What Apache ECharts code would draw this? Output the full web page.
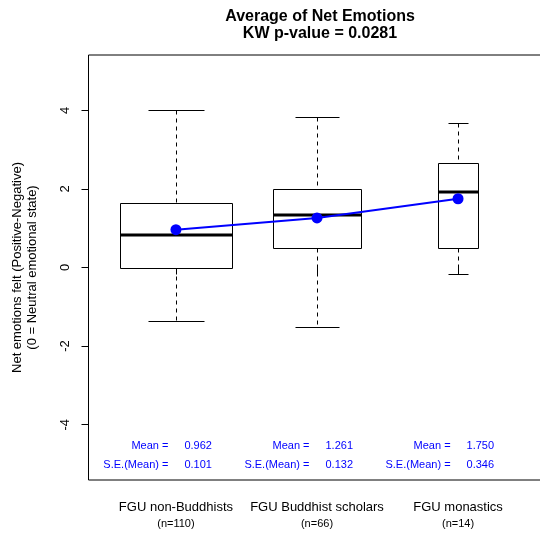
<!DOCTYPE html>
<html>
<head>
<meta charset="utf-8">
<script src="https://cdn.jsdelivr.net/npm/echarts@6/dist/echarts.min.js"></script>
<style>html,body{margin:0;padding:0;background:#fff;}#c{width:540px;height:535px;}</style>
</head>
<body>
<div id="c"></div>
<script>
var categories = ['FGU non-Buddhists', 'FGU Buddhist scholars', 'FGU monastics'];
var nCounts = [110, 66, 14];
var whiskerLow = [-1.35, -1.51, -0.17];
var q1 = [0.0, 0.5, 0.5];
var medians = [0.83, 1.33, 1.92];
var q3 = [1.65, 2.0, 2.67];
var whiskerHigh = [4.0, 3.83, 3.67];
var means = [0.962, 1.261, 1.750];
var seMeans = [0.101, 0.132, 0.346];
var yTicks = [-4, -2, 0, 2, 4];
var xTicks = [1, 2, 3];
var titleText = 'Average of Net Emotions\nKW p-value = 0.0281';
var yTitle = 'Net emotions felt (Positive-Negative)\n(0 = Neutral emotional state)';

var FONT = "'Liberation Sans', Arial, sans-serif";
var maxN = Math.max.apply(null, nCounts);
var yMin = -5.408, yMax = 5.408;

var boxData = categories.map(function (c, i) {
  return [i + 1, whiskerLow[i], q1[i], medians[i], q3[i], whiskerHigh[i], 0.8 * Math.sqrt(nCounts[i] / maxN)];
});
var meanData = means.map(function (m, i) { return [i + 1, m]; });
var statData = means.map(function (m, i) { return [i + 1, m, seMeans[i]]; });

function px(v) { return Math.round(v) + 0.5; }

var chart = echarts.init(document.getElementById('c'), null, {renderer: 'canvas'});
chart.setOption({
  animation: false,
  backgroundColor: '#fff',
  textStyle: {fontFamily: FONT},
  title: {
    text: titleText, left: 315, top: 3, textAlign: 'center',
    textStyle: {fontFamily: FONT, fontSize: 16, fontWeight: 'bold', color: '#000', lineHeight: 17}
  },
  grid: {left: 88.5, top: 55, bottom: 55, width: 457, outerBoundsMode: 'none', containLabel: false, show: true, borderColor: '#000', borderWidth: 1, backgroundColor: 'transparent'},
  xAxis: {
    type: 'value', min: 0.38, max: 3.62,
    axisLine: {show: false},
    splitLine: {show: false},
    axisTick: {show: true, customValues: xTicks, length: 7, lineStyle: {color: '#000', width: 1}},
    axisLabel: {
      customValues: xTicks, margin: 19,
      formatter: function (v) {
        var i = Math.round(v) - 1;
        return '{a|' + categories[i] + '}\n{b|(n=' + nCounts[i] + ')}';
      },
      rich: {
        a: {fontFamily: FONT, fontSize: 13, color: '#000', lineHeight: 17},
        b: {fontFamily: FONT, fontSize: 11, color: '#000', lineHeight: 15}
      }
    }
  },
  yAxis: {
    type: 'value', min: yMin, max: yMax,
    axisLine: {show: false},
    splitLine: {show: false},
    axisTick: {show: true, customValues: yTicks, length: 7, lineStyle: {color: '#000', width: 1}},
    axisLabel: {customValues: yTicks, rotate: 90, margin: 17, fontFamily: FONT, fontSize: 13, color: '#000'},
    name: yTitle, nameLocation: 'middle', nameRotate: 90, nameGap: 49,
    nameTextStyle: {fontFamily: FONT, fontSize: 13, color: '#000', lineHeight: 15}
  },
  series: [
    {
      type: 'custom',
      data: boxData,
      z: 2,
      clip: false,
      renderItem: function (params, api) {
        var x = api.value(0);
        var w = api.size([api.value(6), 0])[0];
        var cx = api.coord([x, 0])[0];
        var yl = api.coord([x, api.value(1)])[1];
        var y1 = api.coord([x, api.value(2)])[1];
        var ym = api.coord([x, api.value(3)])[1];
        var y3 = api.coord([x, api.value(4)])[1];
        var yh = api.coord([x, api.value(5)])[1];
        var L = px(cx - w / 2), R = px(cx + w / 2);
        var c = px(cx);
        var capL = px(cx - w / 4), capR = px(cx + w / 4);
        var solid = {stroke: '#000', lineWidth: 1, fill: null};
        var dash = {stroke: '#000', lineWidth: 1, lineDash: [4, 4], fill: null};
        return {
          type: 'group',
          children: [
            {type: 'line', shape: {x1: c, y1: px(yh), x2: c, y2: px(y3)}, style: dash},
            {type: 'line', shape: {x1: c, y1: px(y1), x2: c, y2: px(yl)}, style: dash},
            {type: 'line', shape: {x1: capL, y1: px(yh), x2: capR, y2: px(yh)}, style: solid},
            {type: 'line', shape: {x1: capL, y1: px(yl), x2: capR, y2: px(yl)}, style: solid},
            {type: 'rect', shape: {x: L, y: px(y3), width: R - L, height: px(y1) - px(y3)}, style: {stroke: '#000', lineWidth: 1, fill: '#fff'}},
            {type: 'line', shape: {x1: L, y1: Math.round(ym), x2: R, y2: Math.round(ym)}, style: {stroke: '#000', lineWidth: 3}}
          ]
        };
      }
    },
    {
      type: 'line',
      data: meanData,
      z: 5,
      symbol: 'circle',
      symbolSize: 11,
      lineStyle: {color: '#0000ff', width: 2},
      itemStyle: {color: '#0000ff'}
    },
    {
      type: 'custom',
      data: statData,
      z: 4,
      renderItem: function (params, api) {
        var x = api.value(0);
        var p = api.coord([x, yMin]);
        var cx = p[0], by = p[1];
        var st = {fontFamily: FONT, fontSize: 11, fill: '#0000ff', verticalAlign: 'middle'};
        function t(text, xx, yy, align) {
          return {type: 'text', x: xx, y: yy, style: Object.assign({}, st, {text: text, align: align})};
        }
        return {
          type: 'group',
          children: [
            t('Mean =', cx - 7.5, by - 34, 'right'),
            t(api.value(1).toFixed(3), cx + 8.5, by - 34, 'left'),
            t('S.E.(Mean) =', cx - 7.5, by - 15, 'right'),
            t(api.value(2).toFixed(3), cx + 8.5, by - 15, 'left')
          ]
        };
      }
    }
  ]
});
</script>
</body>
</html>
